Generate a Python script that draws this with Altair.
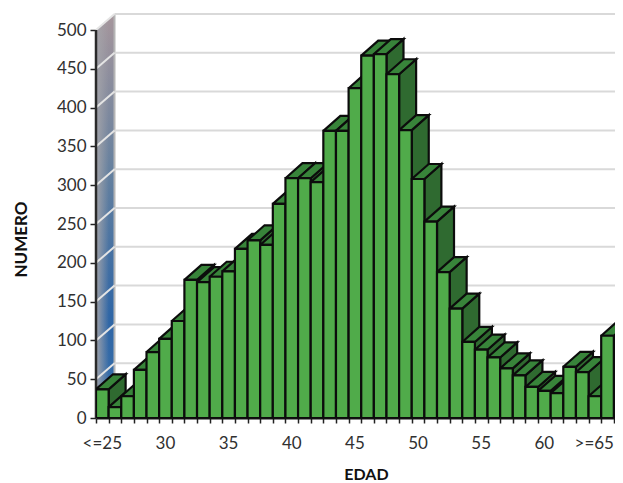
import altair as alt
import pandas as pd

values = [37, 14, 28, 62, 85, 102, 125, 178, 175, 182, 189, 218, 229, 223, 276, 309, 309, 304, 370, 370,
          425, 467, 469, 443, 371, 308, 253, 188, 141, 98, 88, 78, 64, 55, 40, 35, 32, 66, 59, 28, 106]
tick_labels = ["<=25", "30", "35", "40", "45", "50", "55", "60", ">=65"]
tick_slots = [0, 5, 10, 15, 20, 25, 30, 35, 38.95]
y_ticks = [0, 50, 100, 150, 200, 250, 300, 350, 400, 450, 500]

W, H = 519, 407
SLOT_PX = 12.63
PX_PER_UNIT = 0.776
DX = 17 / SLOT_PX
DY = 15 / PX_PER_UNIT
WX = 18.5 / SLOT_PX
WY = 16 / PX_PER_UNIT
FONT = "Lato"
LABEL = "#303030"

xs = alt.Scale(domain=[0, W / SLOT_PX], nice=False, zero=False)
ys = alt.Scale(domain=[0, H / PX_PER_UNIT], nice=False, zero=False)

x_axis = alt.Axis(values=list(range(0, 42)), labels=False, title="EDAD", domain=True, domainColor="#111111",
                  domainWidth=2, grid=False, tickColor="#222222", tickSize=5, tickWidth=1.5,
                  titleFont=FONT, titleFontSize=16, titleFontWeight="bold", titleColor="#111111",
                  titleX=270, titleY=48)
y_axis = alt.Axis(values=y_ticks, title="NUMERO", domain=False, grid=False, tickColor="#222222", tickSize=6,
                  tickWidth=1.5, labelFont=FONT, labelFontSize=17, labelColor=LABEL, labelPadding=4,
                  titleFont=FONT, titleFontSize=17, titleFontWeight="bold", titleColor="#111111",
                  titleX=-66, titleY=228)

X = alt.X("x:Q", scale=xs, axis=x_axis)
Y = alt.Y("y:Q", scale=ys, axis=y_axis)

rows = []
def face(fid, kind, pts):
    for k, (a, b) in enumerate(pts):
        rows.append(dict(fid=fid, kind=kind, k=k, x=a, y=b))

n = 0
for i, v in enumerate(values):
    x0, x1 = i, i + 1
    face(n, "side", [(x1, 0), (x1 + DX, DY), (x1 + DX, v + DY), (x1, v), (x1, 0)]); n += 1
    face(n, "top", [(x0, v), (x1, v), (x1 + DX, v + DY), (x0 + DX, v + DY), (x0, v)]); n += 1
    face(n, "front", [(x0, 0), (x1, 0), (x1, v), (x0, v), (x0, 0)]); n += 1
faces = pd.DataFrame(rows)

bars = alt.Chart(faces).mark_line(strokeWidth=2.2, stroke="#0c0c0c", strokeJoin="miter", clip=True).encode(
    x=X, y=Y, detail="fid:N", order="k:Q",
    fill=alt.Fill("kind:N", legend=None,
                  scale=alt.Scale(domain=["front", "side", "top"], range=["#50ab4a", "#2f6a30", "#38843a"])),
)

wall_df = pd.DataFrame({"x": [0, WX], "y": [0, WY], "y2": [500, 500 + WY]})
wall = alt.Chart(wall_df).mark_area(
    color=alt.Gradient(gradient="linear", x1=0, x2=0, y1=0, y2=1,
                       stops=[alt.GradientStop(offset=0, color="#a6969c"),
                              alt.GradientStop(offset=0.4, color="#64809f"),
                              alt.GradientStop(offset=0.75, color="#2f66a6"),
                              alt.GradientStop(offset=1, color="#3a70aa")])
).encode(x=X, y=Y, y2="y2:Q")
wall_shade = alt.Chart(wall_df).mark_area(
    color=alt.Gradient(gradient="linear", x1=0, x2=1, y1=0, y2=0,
                       stops=[alt.GradientStop(offset=0, color="rgba(165,165,170,0.95)"),
                              alt.GradientStop(offset=0.7, color="rgba(165,165,170,0)"),
                              alt.GradientStop(offset=1, color="rgba(165,165,170,0)")])
).encode(x=X, y=Y, y2="y2:Q")

wall_edge = alt.Chart(pd.DataFrame({"x": [WX], "y": [WY], "y2": [500 + WY]})).mark_rule(
    color="#b5b5b5", strokeWidth=2).encode(x=X, y=Y, y2="y2:Q")

grid_df = pd.DataFrame({"v": y_ticks})
grid_df["y"] = grid_df["v"] + WY
grid_df["x"] = WX
grid_df["x2"] = W / SLOT_PX
back_grid = alt.Chart(grid_df[grid_df.v > 0]).mark_rule(color="#d9d9d9", strokeWidth=2).encode(
    x=X, x2="x2:Q", y=Y)

wl = []
for v in y_ticks[1:]:
    wl.append(dict(v=v, k=0, x=0, y=v))
    wl.append(dict(v=v, k=1, x=WX, y=v + WY))
wall_grid = alt.Chart(pd.DataFrame(wl)).mark_line(color="#e4e4e4", strokeWidth=2).encode(
    x=X, y=Y, detail="v:N", order="k:Q")

y_line = alt.Chart(pd.DataFrame({"x": [0], "y": [0], "y2": [500]})).mark_rule(
    color="#2a2a2a", strokeWidth=2.5).encode(x=X, y=Y, y2="y2:Q")

lab_df = pd.DataFrame({"x": [s + 0.5 for s in tick_slots], "t": tick_labels})
x_labels = alt.Chart(lab_df).mark_text(font=FONT, fontSize=17, color=LABEL, baseline="middle").encode(
    x=X, y=alt.value(H + 26), text="t:N")

chart = alt.layer(wall, wall_shade, wall_edge, back_grid, wall_grid, y_line, x_labels, bars).properties(
    width=W, height=H,
    padding={"left": 88, "top": 3, "right": 0, "bottom": 65},
    autosize=alt.AutoSizeParams(type="none"),
).configure_view(stroke=None)

chart.save("out.html", embed_options={"renderer": "svg", "actions": False})
